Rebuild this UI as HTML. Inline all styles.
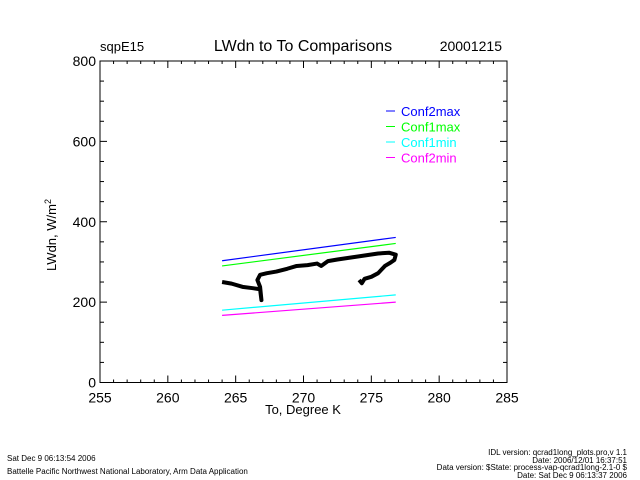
<!DOCTYPE html>
<html><head><meta charset="utf-8"><style>
body{margin:0;background:#fff;}
svg{display:block;font-family:"Liberation Sans",sans-serif;}
</style></head><body>
<svg id="c" width="640" height="480">
<text x="100" y="51" font-size="13">sqpE15</text>
<text x="303" y="51" font-size="16" text-anchor="middle">LWdn  to  To  Comparisons</text>
<text x="502" y="51" font-size="14" text-anchor="end">20001215</text>
<text x="303" y="414" font-size="13" text-anchor="middle">To, Degree K</text>
<text transform="translate(56,235) rotate(-90)" font-size="13" text-anchor="middle">LWdn, W/m<tspan dy="-5" font-size="9">2</tspan></text>
<g id="axes"></g><g id="series"></g><g id="legend"></g>
<text x="7" y="461" font-size="8">Sat Dec  9 06:13:54 2006</text>
<text x="7" y="474" font-size="8">Battelle Pacific Northwest National Laboratory, Arm Data Application</text>
<text x="627" y="455" font-size="8" text-anchor="end">IDL version: qcrad1long_plots.pro,v 1.1</text>
<text x="627" y="463" font-size="8" text-anchor="end">Date: 2006/12/01 16:37:51</text>
<text x="627" y="470" font-size="8" text-anchor="end">Data version: $State: process-vap-qcrad1long-2.1-0 $</text>
<text x="627" y="478" font-size="8" text-anchor="end">Date: Sat Dec  9 06:13:37 2006</text>
</svg>
<script>
const xTicks=[255,260,265,270,275,280,285];
const yTicks=[0,200,400,600,800];
const seriesNames=["Conf2max","Conf1max","Conf1min","Conf2min"];
const seriesColors=["#0000ff","#00ff00","#00ffff","#ff00ff"];
const lineX=[264.0,276.8];
const conf2max=[303,361];
const conf1max=[290,346];
const conf1min=[180,218];
const conf2min=[167,200];
const obsT=[264.0,264.7,265.5,266.2,266.8,266.9,266.8,266.6,266.8,267.3,268.0,268.8,269.5,270.3,271.0,271.3,271.8,272.5,273.5,274.5,275.5,276.3,276.8,276.7,276.4,276.0,275.5,275.0,274.5,274.3,274.1];
const obsW=[250,246,238,235,232,205,238,255,268,272,276,283,290,292,296,290,302,306,311,316,321,323,318,305,298,290,272,263,258,247,255];
const NS="http://www.w3.org/2000/svg";
const X0=100,X1=507,Y0=382.5,Y1=61;
const sx=v=>X0+(v-255)/30*(X1-X0), sy=v=>Y0-(v/800)*(Y0-Y1);
function mk(t,a,p){const e=document.createElementNS(NS,t);for(const k in a)e.setAttribute(k,a[k]);p.appendChild(e);return e;}
const ax=document.getElementById('axes');
const frame=mk('rect',{x:X0,y:Y1,width:X1-X0,height:Y0-Y1,fill:'none',stroke:'#000','stroke-width':1},ax);


for(let v=255;v<=285;v++){const L=(v%5===0)?7:3,x=sx(v);
 mk('line',{x1:x,x2:x,y1:Y0,y2:Y0-L,stroke:'#000'},ax);mk('line',{x1:x,x2:x,y1:Y1,y2:Y1+L,stroke:'#000'},ax);}
xTicks.forEach(v=>{const t=mk('text',{x:sx(v),y:Y0+20,'font-size':14,'text-anchor':'middle'},ax);t.textContent=v;
 
 });
for(let v=0;v<=800;v+=50){const L=(v%200===0)?7:4,y=sy(v);
 mk('line',{x1:X0,x2:X0+L,y1:y,y2:y,stroke:'#000'},ax);mk('line',{x1:X1,x2:X1-L,y1:y,y2:y,stroke:'#000'},ax);}
yTicks.forEach(v=>{const t=mk('text',{x:X0-4,y:sy(v)+5,'font-size':14,'text-anchor':'end'},ax);t.textContent=v;
 
 });
const sg=document.getElementById('series');
[conf2max,conf1max,conf1min,conf2min].forEach((d,i)=>{
 const l=mk('line',{x1:sx(lineX[0]),y1:sy(d[0]),x2:sx(lineX[1]),y2:sy(d[1]),stroke:seriesColors[i],'stroke-width':1.2},sg);
 
 });
const p=mk('polyline',{points:obsT.map((t,i)=>sx(t)+','+sy(obsW[i])).join(' '),fill:'none',stroke:'#000','stroke-width':4,'stroke-linejoin':'round'},sg);


const lg=document.getElementById('legend');
seriesNames.forEach((n,i)=>{const y=111+i*15.5;
 mk('line',{x1:386,x2:395,y1:y,y2:y,stroke:seriesColors[i]},lg);
 const t=mk('text',{x:401,y:y+5,'font-size':13,fill:seriesColors[i]},lg);t.textContent=n;
 
 });
</script>
</body></html>
